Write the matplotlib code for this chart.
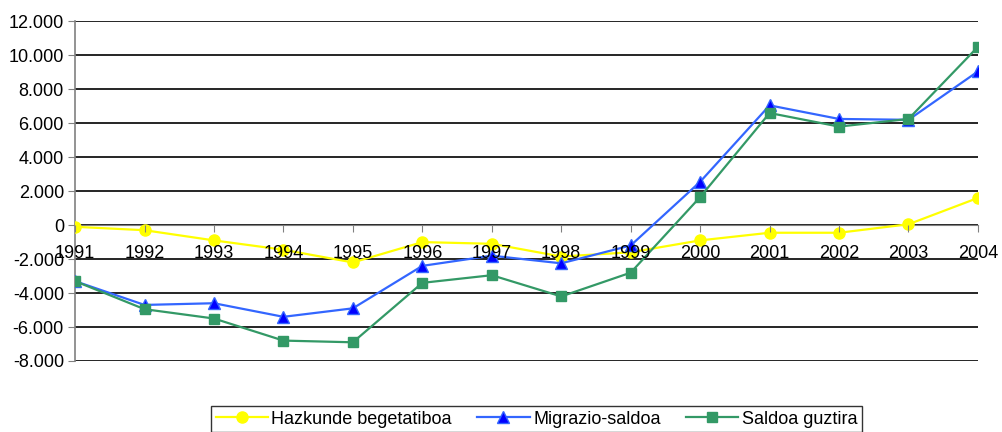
import matplotlib.pyplot as plt
from matplotlib.ticker import FuncFormatter

years = ['1991', '1992', '1993', '1994', '1995', '1996', '1997',
         '1998', '1999', '2000', '2001', '2002', '2003', '2004']
hazkunde = [-100, -300, -900, -1450, -2200, -1000, -1100,
            -1850, -1600, -900, -450, -450, 50, 1600]
migrazio = [-3300, -4700, -4600, -5400, -4900, -2400, -1800,
            -2250, -1200, 2550, 7050, 6250, 6200, 9050]
guztira = [-3300, -4950, -5500, -6800, -6900, -3400, -2950,
           -4200, -2800, 1650, 6600, 5800, 6250, 10500]

plt.rcParams['font.family'] = ['Liberation Sans', 'DejaVu Sans']

fig = plt.figure(figsize=(10.02, 4.32), dpi=100)
ax = fig.add_axes([0.0749, 0.1644, 0.9011, 0.7863])

x = range(len(years))
ax.plot(x, hazkunde, color='#FFFF00', lw=1.6, marker='o', ms=8,
        mfc='#FFFF00', mec='#FFFF00', label='Hazkunde begetatiboa', zorder=3)
ax.plot(x, migrazio, color='#3366FF', lw=1.6, marker='^', ms=8,
        mfc='#0000FF', mec='#3366FF', label='Migrazio-saldoa', zorder=4)
ax.plot(x, guztira, color='#339966', lw=1.6, marker='s', ms=7,
        mfc='#339966', mec='#339966', label='Saldoa guztira', zorder=5)

ax.set_xlim(0, len(years) - 1)
ax.set_ylim(-8000, 12000)
ax.set_yticks(range(-8000, 12001, 2000))
ax.yaxis.set_major_formatter(FuncFormatter(
    lambda v, p: f'{int(v):,}'.replace(',', '.')))
ax.set_xticks(list(x))
ax.set_xticklabels(years)

ax.grid(axis='y', color='black', lw=1.2)
ax.set_axisbelow(True)
# year labels sit on top of the lines, like in the original
ax.xaxis.set_zorder(10)
for s in ['top', 'right']:
    ax.spines[s].set_visible(False)
ax.spines['bottom'].set_position(('data', 0))
ax.spines['bottom'].set_color('#808080')
ax.spines['left'].set_color('#808080')
ax.spines['left'].set_linewidth(1.2)
ax.tick_params(axis='x', direction='out', length=5, color='#808080',
               labelsize=13, pad=9)
ax.tick_params(axis='y', direction='out', length=5, color='#808080',
               labelsize=13, pad=3)

leg = fig.legend(loc='upper left', bbox_to_anchor=(211 / 1002, 1 - 406 / 432),
                 borderaxespad=0, ncol=3, fontsize=13, frameon=True,
                 fancybox=False, edgecolor='black', handlelength=2.9,
                 columnspacing=1.4, borderpad=0.25, handletextpad=0.2)
leg.get_frame().set_linewidth(1.0)

fig.savefig('out.png', dpi=100)
